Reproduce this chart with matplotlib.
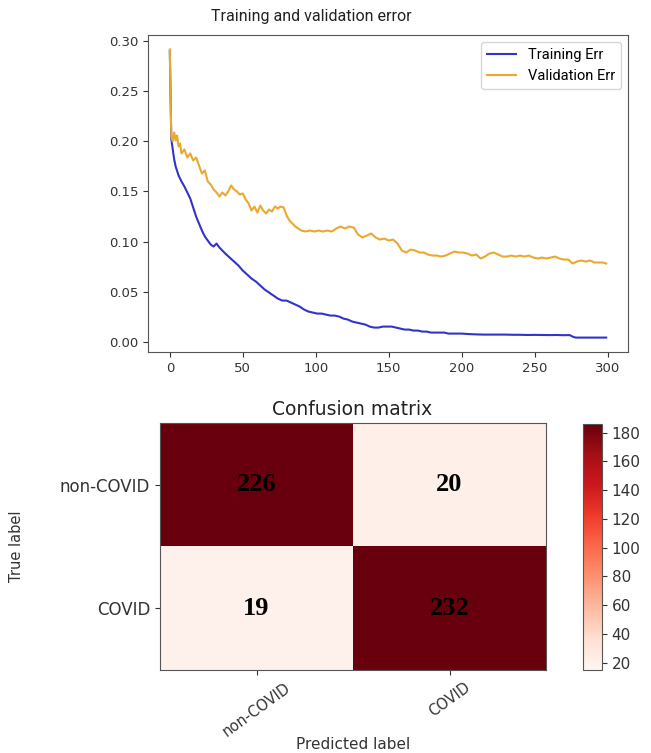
import matplotlib
matplotlib.use("Agg")
import matplotlib.pyplot as plt
import numpy as np

# ---------------- data ----------------
train_epochs = [0, 1, 2, 3, 4, 6, 8, 10, 12, 14, 16, 18, 20, 22, 24, 26, 28, 30, 32, 34, 36, 38,
                41, 44, 47, 50, 53, 56, 59, 62, 65, 68, 71, 74, 77, 80, 83, 86, 89, 92, 95, 98,
                101, 104, 107, 110, 113, 116, 119, 122, 125, 128, 131, 134, 137, 140, 143, 146,
                149, 152, 155, 158, 161, 164, 167, 170, 173, 176, 179, 182, 185, 188, 191, 194,
                197, 200, 205, 210, 215, 220, 225, 230, 235, 240, 245, 250, 255, 260, 265, 270,
                274, 276, 278, 282, 286, 290, 295, 299]
train_err = [0.290, 0.203, 0.192, 0.182, 0.175, 0.166, 0.160, 0.155, 0.149, 0.143, 0.134, 0.125,
             0.118, 0.111, 0.105, 0.101, 0.097, 0.095, 0.098, 0.094, 0.091, 0.088,
             0.084, 0.080, 0.076, 0.071, 0.067, 0.063, 0.060, 0.056, 0.052, 0.049, 0.046, 0.043,
             0.041, 0.041, 0.039, 0.037, 0.035, 0.032, 0.030, 0.029,
             0.028, 0.028, 0.027, 0.026, 0.026, 0.025, 0.023, 0.022, 0.020, 0.019, 0.018, 0.017,
             0.015, 0.014, 0.014, 0.015, 0.015, 0.015, 0.014, 0.013, 0.012, 0.012, 0.011, 0.011,
             0.010, 0.010, 0.009, 0.009, 0.009, 0.009, 0.008, 0.008, 0.008, 0.008, 0.0075, 0.0072,
             0.0070, 0.0070, 0.0070, 0.0070, 0.0068, 0.0068, 0.0066, 0.0067, 0.0066, 0.0065,
             0.0066, 0.0064, 0.0065, 0.0050, 0.0040, 0.0040, 0.0040, 0.0040, 0.0040, 0.0040]

val_epochs = [0, 1, 2, 3, 4, 5, 6, 7, 8, 10, 12, 14, 16, 18, 20, 22, 24, 26, 28, 30, 32, 34, 36,
              38, 40, 42, 44, 46, 48, 50, 52, 54, 56, 58, 60, 62, 64, 66, 68, 70, 72, 74, 76, 78,
              80, 82, 84, 86, 88, 90, 93, 96, 99, 102, 105, 108, 111, 114, 117, 120, 123, 126,
              129, 132, 135, 138, 141, 144, 147, 150, 153, 156, 159, 162, 165, 168, 171, 174,
              177, 180, 183, 186, 189, 192, 195, 198, 201, 204, 207, 210, 213, 216, 219, 222,
              225, 228, 231, 234, 237, 240, 243, 246, 249, 252, 255, 258, 261, 264, 267, 270,
              273, 276, 279, 282, 285, 288, 291, 294, 297, 299]
val_err = [0.292, 0.205, 0.200, 0.209, 0.201, 0.206, 0.195, 0.198, 0.188, 0.192, 0.184, 0.188,
           0.181, 0.184, 0.176, 0.168, 0.171, 0.160, 0.157, 0.152, 0.149, 0.145, 0.149,
           0.146, 0.150, 0.156, 0.152, 0.150, 0.147, 0.148, 0.142, 0.138, 0.131, 0.135, 0.129,
           0.136, 0.131, 0.128, 0.132, 0.130, 0.135, 0.133, 0.135, 0.134,
           0.126, 0.121, 0.118, 0.115, 0.113, 0.111, 0.110, 0.111, 0.110, 0.111, 0.110, 0.111,
           0.110, 0.113, 0.115, 0.113, 0.115, 0.114,
           0.107, 0.104, 0.106, 0.108, 0.104, 0.102, 0.103, 0.101, 0.102, 0.098, 0.091, 0.089,
           0.092, 0.091, 0.089, 0.089,
           0.087, 0.086, 0.086, 0.085, 0.086, 0.088, 0.090, 0.089, 0.089, 0.088, 0.086, 0.087,
           0.083, 0.085, 0.088, 0.089,
           0.087, 0.085, 0.085, 0.086, 0.085, 0.086, 0.085, 0.086, 0.084, 0.083, 0.084, 0.083,
           0.084, 0.085, 0.083, 0.082,
           0.082, 0.078, 0.080, 0.081, 0.080, 0.081, 0.079, 0.079, 0.079, 0.078]

classes = ["non-COVID", "COVID"]
cm = np.array([[226, 20],
               [19, 232]])
cbar_ticks = [20, 40, 60, 80, 100, 120, 140, 160, 180]

# ---------------- figure ----------------
W, H = 651, 753
fig = plt.figure(figsize=(W / 100, H / 100), dpi=100)
plt.rcParams['font.family'] = ['DejaVu Sans']
narrow = ['Liberation Sans Narrow', 'Roboto', 'DejaVu Sans']

def px_axes(x0, y0, x1, y1):
    return fig.add_axes([x0 / W, 1 - y1 / H, (x1 - x0) / W, (y1 - y0) / H])

# top: training / validation error
ax1 = px_axes(148, 35, 628, 352)
ax1.plot(train_epochs, train_err, color="#3333cc", lw=1.5, label="Training Err")
ax1.plot(val_epochs, val_err, color="#eaa830", lw=1.5, label="Validation Err")
ax1.set_xticks([0, 50, 100, 150, 200, 250, 300])
ax1.set_yticks([0.0, 0.05, 0.10, 0.15, 0.20, 0.25, 0.30])
ax1.yaxis.set_major_formatter(matplotlib.ticker.FormatStrFormatter('%.2f'))
ax1.tick_params(labelsize=9.5, colors="#333333")
for s in ax1.spines.values():
    s.set_color("#555555")
ax1.legend(loc="upper right", prop={'family': narrow, 'size': 10.5}, frameon=True)
fig.text(311 / W, 1 - 17 / H, "Training and validation error", ha="center", va="center",
         fontsize=11.5, family=narrow, color="#222222")

# bottom: confusion matrix
ax2 = px_axes(160, 423, 546, 670)
im = ax2.imshow(cm, cmap="Reds", vmin=15, vmax=186, aspect="auto", interpolation="nearest")
ax2.set_xticks(range(len(classes)))
ax2.set_yticks(range(len(classes)))
ax2.set_xticklabels(classes, rotation=36, fontsize=10.5, color="#333333")
ax2.set_yticklabels(classes, fontsize=12, color="#333333")
ax2.tick_params(colors="#333333")
for i in range(cm.shape[0]):
    for j in range(cm.shape[1]):
        ax2.text(j, i, str(cm[i, j]), ha="center", va="center", fontsize=19,
                 fontweight="bold", family="Liberation Serif", color="black")
for s in ax2.spines.values():
    s.set_color("#555555")
ax2.set_ylabel("True label", fontsize=10.5, color="#333333")
ax2.yaxis.set_label_coords((24 - 160) / 386, 0.5)
ax2.set_xlabel("Predicted label", fontsize=11, color="#333333")
ax2.xaxis.set_label_coords(0.5, (670 - 737) / 247)
fig.text(352 / W, 1 - 410 / H, "Confusion matrix", ha="center", va="center",
         fontsize=13.5, color="#222222")

cax = px_axes(583, 424, 602, 670)
cb = fig.colorbar(im, cax=cax, ticks=cbar_ticks)
cb.ax.tick_params(labelsize=11, colors="#333333")
cb.outline.set_edgecolor("#555555")

fig.savefig("out.png", dpi=100)
